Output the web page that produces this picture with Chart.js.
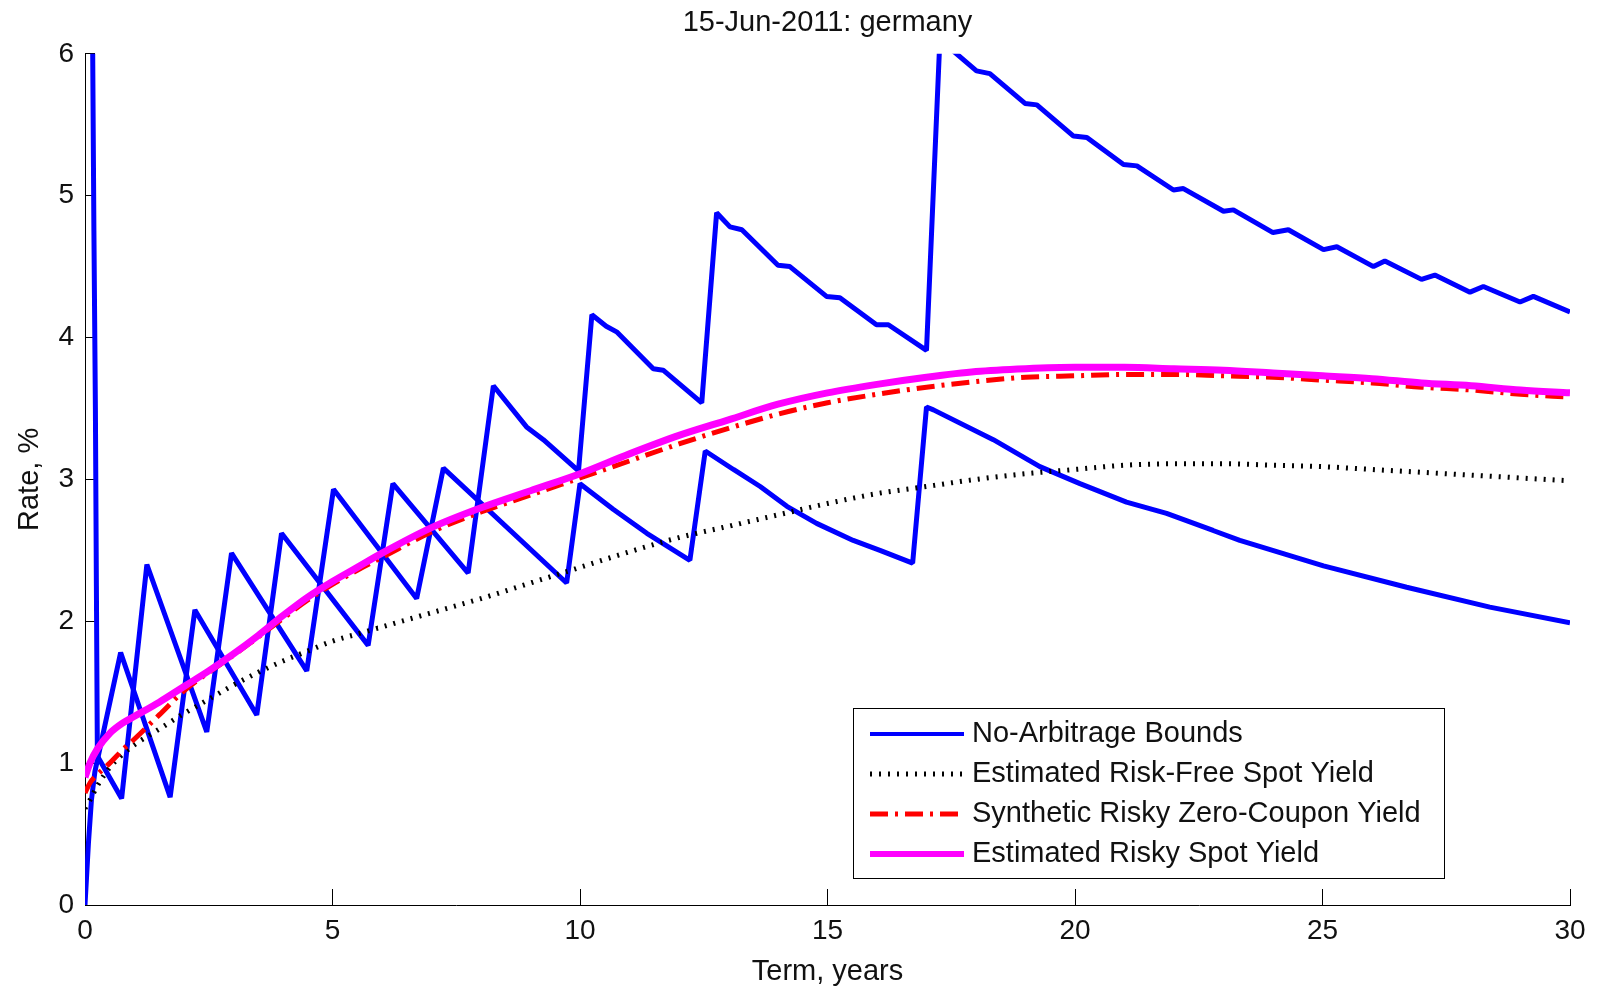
<!DOCTYPE html>
<html>
<head>
<meta charset="utf-8">
<title>15-Jun-2011: germany</title>
<script src="https://cdn.jsdelivr.net/npm/chart.js@4/dist/chart.umd.min.js"></script>
<style>
    html, body { margin: 0; padding: 0; background: #fff; }
    #wrap { width: 1598px; height: 987px; }
</style>
</head>
<body>
<div id="wrap"><canvas id="yieldCanvas" width="1598" height="987"></canvas></div>
<script>
// 1. values (term in years, rate in %)
// 2. build datasets from them, draw with a linear x axis

const terms          = [0, 0.1, 0.25, 0.5, 0.75, 1, 1.5, 2, 2.5, 3, 3.5, 4, 4.5, 5, 5.5, 6,
                        7, 8, 9, 10, 11, 12, 13, 14, 15, 16, 17, 18, 19, 20, 21, 22, 23, 24, 25, 26, 27, 28, 29, 30];
const riskFreeYield  = [0.68, 0.74, 0.84, 0.97, 1.06, 1.13, 1.24, 1.35, 1.45, 1.55, 1.64, 1.72, 1.79, 1.86, 1.91, 1.96,
                        2.06, 2.16, 2.27, 2.38, 2.49, 2.59, 2.67, 2.75, 2.83, 2.90, 2.95, 3.00, 3.04, 3.07, 3.10, 3.11, 3.11, 3.10, 3.09, 3.07, 3.05, 3.03, 3.01, 2.99];
const syntheticYield = [0.79, 0.86, 0.92, 1.00, 1.09, 1.17, 1.34, 1.51, 1.64, 1.76, 1.89, 2.02, 2.15, 2.26, 2.36, 2.45,
                        2.63, 2.77, 2.89, 3.01, 3.13, 3.25, 3.36, 3.46, 3.54, 3.60, 3.65, 3.69, 3.72, 3.73, 3.74, 3.74, 3.73, 3.72, 3.70, 3.68, 3.65, 3.63, 3.60, 3.58];
const riskyYield     = [0.90, 1.00, 1.10, 1.21, 1.28, 1.33, 1.43, 1.54, 1.65, 1.77, 1.90, 2.04, 2.17, 2.28, 2.38, 2.48,
                        2.66, 2.80, 2.92, 3.04, 3.18, 3.31, 3.42, 3.53, 3.61, 3.67, 3.72, 3.76, 3.78, 3.79, 3.79, 3.78, 3.77, 3.75, 3.73, 3.71, 3.68, 3.66, 3.63, 3.61];

// the two bound lines (they swap places along the curve)
const boundOneTerms = [0, 0.07, 0.13, 0.2, 0.72, 1.72, 2.22, 3.47, 3.97, 5.72, 6.22, 7.74, 8.25, 8.92, 9.26, 9.97,
                       10.24, 10.53, 10.74, 11.48, 11.68, 12.46, 12.76, 13.03, 13.27, 14.0, 14.24, 14.98, 15.25, 15.99, 16.23, 17.0,
                       17.27, 18.01, 18.28, 18.99, 19.23, 19.97, 20.24, 20.98, 21.25, 21.99, 22.19, 23.0, 23.2, 24.0, 24.31,
                       25.02, 25.29, 26.03, 26.26, 27.0, 27.27, 27.98, 28.25, 28.99, 29.26, 30.0];
const boundOneRates = [0, 0.44, 0.74, 0.94, 1.78, 0.76, 2.08, 1.34, 2.62, 1.83, 2.97, 2.34, 3.66, 3.37, 3.28, 3.06,
                       4.16, 4.08, 4.04, 3.78, 3.77, 3.54, 4.88, 4.78, 4.76, 4.51, 4.50, 4.29, 4.28, 4.09, 4.09, 3.91,
                       6.10, 5.88, 5.86, 5.65, 5.64, 5.42, 5.41, 5.22, 5.21, 5.04, 5.05, 4.89, 4.90, 4.74, 4.76,
                       4.62, 4.64, 4.50, 4.54, 4.41, 4.44, 4.32, 4.36, 4.25, 4.29, 4.18];
const boundTwoTerms = [0.14, 0.18, 0.21, 0.23, 0.25, 0.74, 1.25, 2.46, 2.96, 4.48, 5.02, 6.70, 7.24, 9.73, 10.0,
                       10.67, 11.35, 12.22, 12.53, 13.1, 13.64, 14.18, 14.78, 15.52, 16.06, 16.72, 17.0, 17.14,
                       18.35, 19.29, 20.1, 21.04, 21.85, 22.79, 23.33, 25.02, 26.7, 28.38, 30.0];
const boundTwoRates = [6.8, 4.75, 3.5, 2.25, 1.05, 0.75, 2.40, 1.22, 2.48, 1.65, 2.93, 2.16, 3.08, 2.27, 2.97,
                       2.79, 2.62, 2.43, 3.20, 3.07, 2.95, 2.81, 2.69, 2.57, 2.50, 2.41, 3.51, 3.49,
                       3.28, 3.09, 2.97, 2.84, 2.76, 2.64, 2.57, 2.39, 2.24, 2.10, 1.99];

const xTicks = [0, 5, 10, 15, 20, 25, 30];
const yTicks = [0, 1, 2, 3, 4, 5, 6];

const fontFamily = '"Liberation Sans", Arial, Helvetica, sans-serif';
Chart.defaults.font.family = fontFamily;
Chart.defaults.color = '#111';

function toPoints(xs, ys) {
    return xs.map((x, i) => ({ x: x, y: ys[i] }));
}

// legend drawn in a box like matlab does, bottom right of the plot
const boxLegend = {
    id: 'boxLegend',
    afterDraw(chart) {
        const ctx   = chart.ctx;
        const area  = chart.chartArea;
        const items = chart.data.datasets.filter(d => !d.skipLegend);

        ctx.save();
        ctx.font = '29px ' + fontFamily;
        const textW = Math.max(...items.map(d => ctx.measureText(d.label).width));
        const w     = Math.round(17 + 94 + 8 + textW + 23);
        const h     = 170;
        const right = Math.round(area.right - 126);
        const bot   = Math.round(area.bottom - 27);
        const left  = right - w;
        const top   = bot - h;

        ctx.fillStyle = '#fff';
        ctx.fillRect(left, top, w, h);
        ctx.strokeStyle = '#000';
        ctx.lineWidth = 1;
        ctx.strokeRect(left + 0.5, top + 0.5, w, h);

        items.forEach((d, i) => {
            const y = top + 26 + i * 40;
            ctx.beginPath();
            ctx.setLineDash(d.borderDash || []);
            ctx.lineWidth   = d.legendWidth || d.borderWidth;
            ctx.strokeStyle = d.borderColor;
            ctx.moveTo(left + 17, y);
            ctx.lineTo(left + 111, y);
            ctx.stroke();
            ctx.setLineDash([]);
            ctx.fillStyle    = '#111';
            ctx.textBaseline = 'middle';
            ctx.textAlign    = 'left';
            ctx.fillText(d.label, left + 119, y);
        });
        ctx.restore();
    }
};

const data = {
    datasets: [{
        label: 'No-Arbitrage Bounds',
        data: toPoints(boundOneTerms, boundOneRates),
        borderColor: 'rgb(0, 0, 255)',
        borderWidth: 5,
        legendWidth: 4,
        borderJoinStyle: 'bevel',
        tension: 0,
        order: 4
    }, {
        label: 'No-Arbitrage Bounds',
        data: toPoints(boundTwoTerms, boundTwoRates),
        borderColor: 'rgb(0, 0, 255)',
        borderWidth: 5,
        borderJoinStyle: 'bevel',
        tension: 0,
        order: 4,
        skipLegend: true
    }, {
        label: 'Estimated Risk-Free Spot Yield',
        data: toPoints(terms, riskFreeYield),
        borderColor: 'rgb(0, 0, 0)',
        borderWidth: 5,
        borderDash: [2, 7],
        cubicInterpolationMode: 'monotone',
        order: 3
    }, {
        label: 'Synthetic Risky Zero-Coupon Yield',
        data: toPoints(terms, syntheticYield),
        borderColor: 'rgb(255, 0, 0)',
        borderWidth: 5,
        borderDash: [18, 7, 3, 7],
        cubicInterpolationMode: 'monotone',
        order: 2
    }, {
        label: 'Estimated Risky Spot Yield',
        data: toPoints(terms, riskyYield),
        borderColor: 'rgb(255, 0, 255)',
        borderWidth: 7,
        legendWidth: 6,
        cubicInterpolationMode: 'monotone',
        order: 1
    }]
};

const config = {
    type: 'line',
    data: data,
    plugins: [boxLegend],
    options: {
        responsive: false,
        animation: false,
        layout: { padding: { left: 0, right: 28, top: 0, bottom: 0 } },
        elements: {
            point: { radius: 0, hoverRadius: 0 },
            line: { fill: false }
        },
        plugins: {
            legend: { display: false },
            tooltip: { enabled: false },
            title: {
                display: true,
                fullSize: false,
                text: '15-Jun-2011: germany',
                color: '#111',
                font: { size: 29, weight: 'normal' },
                padding: { top: 6, bottom: 13 }
            }
        },
        scales: {
            x: {
                type: 'linear',
                min: 0,
                max: 30,
                afterBuildTicks: s => { s.ticks = xTicks.map(v => ({ value: v })); },
                afterFit: s => {
                    s.height = 82;
                    s.paddingLeft = 0;
                    s.paddingRight = 0;
                },
                grid: { drawOnChartArea: false, color: '#000', lineWidth: 1, tickLength: -16 },
                border: { color: '#000', width: 1 },
                ticks: { padding: 25, autoSkip: false, maxRotation: 0, color: '#111', font: { size: 28 } },
                title: { display: true, text: 'Term, years', color: '#111', font: { size: 29, lineHeight: 1 }, padding: { top: 0, bottom: 1 } }
            },
            y: {
                type: 'linear',
                min: 0,
                max: 6,
                afterBuildTicks: s => { s.ticks = yTicks.map(v => ({ value: v })); },
                afterFit: s => {
                    s.width = 85;
                    s.paddingTop = 0;
                    s.paddingBottom = 0;
                },
                grid: { drawOnChartArea: false, color: '#000', lineWidth: 1, tickLength: -10 },
                border: { color: '#000', width: 1 },
                ticks: { padding: 21, autoSkip: false, color: '#111', font: { size: 28 } },
                title: { display: true, text: 'Rate, %', color: '#111', font: { size: 29 }, padding: { top: 13, bottom: 0 } }
            }
        }
    }
};

let yieldChart = new Chart(document.getElementById('yieldCanvas'), config);
</script>
</body>
</html>
